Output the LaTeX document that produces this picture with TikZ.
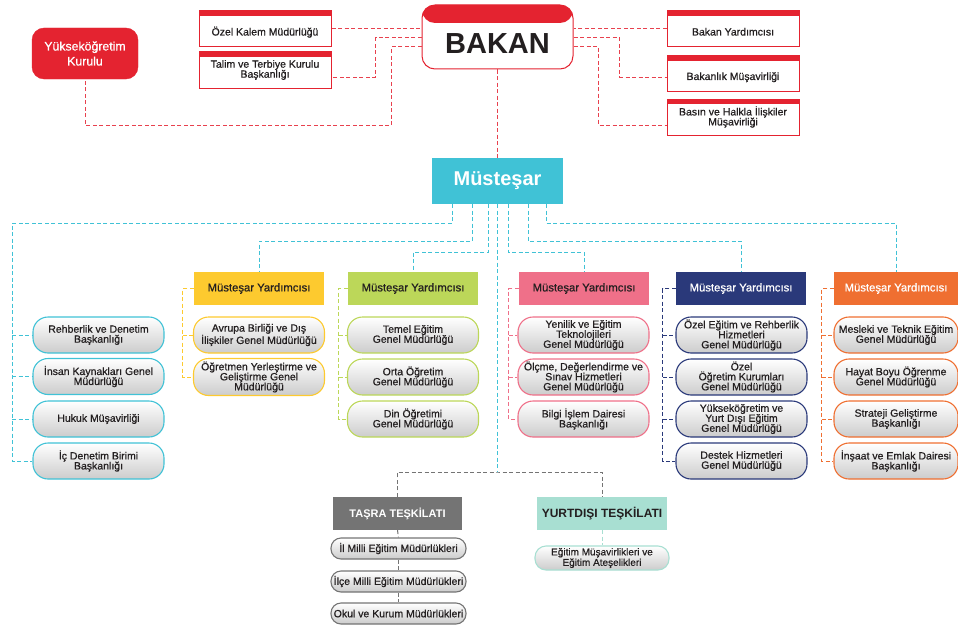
\documentclass[tikz,border=0pt]{standalone}
\usepackage{fontspec}
\setmainfont{Liberation Sans}
\newfontfamily\medium{Liberation Sans}[FakeBold=0.7]
\usetikzlibrary{calc,positioning}
\definecolor{bakanred}{HTML}{E42330}
\definecolor{redline}{HTML}{E8414E}
\definecolor{mcyan}{HTML}{40C2D6}
\definecolor{myellow}{HTML}{FDCA2F}
\definecolor{mgreen}{HTML}{BCD759}
\definecolor{mpink}{HTML}{EF7089}
\definecolor{mnavy}{HTML}{2A397A}
\definecolor{morange}{HTML}{EF6F31}
\definecolor{tgray}{HTML}{747474}
\definecolor{tteal}{HTML}{A8DFD2}
\definecolor{txtdark}{HTML}{231F20}

\begin{document}
\begin{tikzpicture}[x=1pt,y=-1pt,
  every node/.style={align=center,inner sep=1pt,text=txtdark,font=\medium\fontsize{10.5}{10}\selectfont},
  link/.style={draw=#1,line width=1pt,dash pattern=on 4pt off 2.5pt},
  redbox/.style={draw=bakanred,line width=1pt,fill=white,minimum width=132pt,minimum height=36pt,
    path picture={\fill[bakanred] (path picture bounding box.north west) rectangle ([yshift=-5pt]path picture bounding box.north east);}},
  oneline/.style={text height=13pt,text depth=0pt},
  bakanbox/.style={draw=bakanred,line width=1pt,rounded corners=13pt,fill=white,minimum width=151pt,minimum height=64pt,
    font=\bfseries\fontsize{29}{30}\selectfont,text height=32pt,text depth=0pt,
    path picture={\fill[bakanred] (path picture bounding box.north west) rectangle ([yshift=-18pt]path picture bounding box.north east);}},
  ydbox/.style={fill=#1,minimum width=130pt,minimum height=33pt,font=\medium\fontsize{11.3}{12}\selectfont},
  pill/.style={draw=#1,line width=1.1pt,rounded corners=15pt,top color=white,bottom color=black!20,minimum width=131pt,minimum height=36pt},
  smallpill/.style={draw=#1,line width=1.1pt,rounded corners=10pt,top color=white,bottom color=black!20,minimum width=135pt,minimum height=21pt}
]
\useasboundingbox (0,0) rectangle (958,626);

% bakan ve bagli birimler
\node[draw=bakanred,fill=bakanred,rounded corners=12pt,minimum width=106pt,minimum height=51pt,text=white,font=\medium\fontsize{12.3}{15}\selectfont] (yok) at (85,53.5) {Yükseköğretim\\Kurulu};
\node[redbox,oneline] (ozelkalem) at (265,29) {Özel Kalem Müdürlüğü};
\node[redbox] (talim) at (265,70) {Talim ve Terbiye Kurulu\\Başkanlığı};
\node[bakanbox] (bakan) at (497.5,37) {BAKAN};
\node[redbox,oneline] (bakanyrd) at (733,29) {Bakan Yardımcısı};
\node[redbox,oneline,minimum height=35pt] (musavir) at (733,73.5) {Bakanlık Müşavirliği};
\node[redbox] (basin) at (733,117) {Basın ve Halkla İlişkiler\\Müşavirliği};

\node[fill=mcyan,minimum width=131pt,minimum height=46pt,text=white,font=\bfseries\fontsize{20}{22}\selectfont] (must) at (497.5,181) {Müsteşar};

% mustesar yardimcilari
\node[ydbox=myellow] (yrdsari) at (259,288.5) {Müsteşar Yardımcısı};
\node[ydbox=mgreen] (yrdyesil) at (413,288.5) {Müsteşar Yardımcısı};
\node[ydbox=mpink] (yrdpembe) at (584,288.5) {Müsteşar Yardımcısı};
\node[ydbox=mnavy,text=white] (yrdlacivert) at (741,288.5) {Müsteşar Yardımcısı};
\node[ydbox=morange,text=white,minimum width=124pt] (yrdturuncu) at (896,288.5) {Müsteşar Yardımcısı};

% mustesara bagli birimler
\node[pill=mcyan] (rehber) at (98.5,335) {Rehberlik ve Denetim\\Başkanlığı};
\node[pill=mcyan] (insan) at (98.5,376.5) {İnsan Kaynakları Genel\\Müdürlüğü};
\node[pill=mcyan] (hukuk) at (98.5,419) {Hukuk Müşavirliği};
\node[pill=mcyan] (icdenetim) at (98.5,461) {İç Denetim Birimi\\Başkanlığı};

\node[pill=myellow] (avrupa) at (259,335) {Avrupa Birliği ve Dış\\İlişkiler Genel Müdürlüğü};
\node[pill=myellow,minimum height=37pt] (ogretmen) at (259,377) {Öğretmen Yerleştirme ve\\Geliştirme Genel\\Müdürlüğü};

\node[pill=mgreen] (temel) at (413,335) {Temel Eğitim\\Genel Müdürlüğü};
\node[pill=mgreen] (orta) at (413,377) {Orta Öğretim\\Genel Müdürlüğü};
\node[pill=mgreen] (din) at (413,419) {Din Öğretimi\\Genel Müdürlüğü};

\node[pill=mpink] (yenilik) at (583.5,335) {Yenilik ve Eğitim\\Teknolojileri\\Genel Müdürlüğü};
\node[pill=mpink] (olcme) at (583.5,377) {Ölçme, Değerlendirme ve\\Sınav Hizmetleri\\Genel Müdürlüğü};
\node[pill=mpink] (bilgi) at (583.5,419) {Bilgi İşlem Dairesi\\Başkanlığı};

\node[pill=mnavy] (ozelegitim) at (741.5,335) {Özel Eğitim ve Rehberlik\\Hizmetleri\\Genel Müdürlüğü};
\node[pill=mnavy] (ozelogretim) at (741.5,377) {Özel\\Öğretim Kurumları\\Genel Müdürlüğü};
\node[pill=mnavy] (yuksekogretim) at (741.5,419) {Yükseköğretim ve\\Yurt Dışı Eğitim\\Genel Müdürlüğü};
\node[pill=mnavy] (destek) at (741.5,461) {Destek Hizmetleri\\Genel Müdürlüğü};

\node[pill=morange,minimum width=124pt] (mesleki) at (896,335) {Mesleki ve Teknik Eğitim\\Genel Müdürlüğü};
\node[pill=morange,minimum width=124pt] (hayat) at (896,377) {Hayat Boyu Öğrenme\\Genel Müdürlüğü};
\node[pill=morange,minimum width=124pt] (strateji) at (896,419) {Strateji Geliştirme\\Başkanlığı};
\node[pill=morange,minimum width=124pt] (insaat) at (896,461) {İnşaat ve Emlak Dairesi\\Başkanlığı};

% tasra ve yurtdisi
\node[fill=tgray,text=white,font=\bfseries\fontsize{11}{12}\selectfont,minimum width=129pt,minimum height=33pt] (tasra) at (397.5,513.5) {TAŞRA TEŞKİLATI};
\node[fill=tteal,font=\bfseries\fontsize{12}{13}\selectfont,minimum width=130pt,minimum height=33pt] (yurtdisi) at (602,513.5) {YURTDIŞI TEŞKİLATI};
\node[smallpill=tgray] (il) at (398.5,548.5) {İl Milli Eğitim Müdürlükleri};
\node[smallpill=tgray] (ilce) at (398.5,581.5) {İlçe Milli Eğitim Müdürlükleri};
\node[smallpill=tgray] (okul) at (398.5,613.5) {Okul ve Kurum Müdürlükleri};
\node[smallpill=tteal,minimum width=134pt,minimum height=24pt,rounded corners=11pt,font=\medium\fontsize{10}{9}\selectfont] (ates) at (602,558) {Eğitim Müşavirlikleri ve\\Eğitim Ateşelikleri};

% bakan baglantilari
\draw[link=redline] (ozelkalem.east) -- (ozelkalem.east -| bakan.west);
\draw[link=redline] ([yshift=-1pt]bakan.west) -- ++(-46,0) |- ([yshift=-7pt]talim.east);
\draw[link=redline] ([yshift=-10pt]bakan.west) -- ++(-30,0) -- ++(0,78) -| (yok.south);
\draw[link=redline] (bakanyrd.west) -- (bakanyrd.west -| bakan.east);
\draw[link=redline] ([yshift=-1pt]bakan.east) -- ++(46,0) |- ([yshift=-3.5pt]musavir.west);
\draw[link=redline] ([yshift=-10pt]bakan.east) -- ++(25,0) |- ([yshift=-8pt]basin.west);
\draw[link=redline] (bakan.south) -- (must.north);

% mustesar baglantilari
\coordinate (solhat) at (12,461);
\coordinate (tbus) at (497.5,472);
\draw[link=mcyan] ([xshift=-45.5pt]must.south) -- ++(0,19) -| (solhat) -- (icdenetim.west);
\foreach \n in {rehber,insan,hukuk} \draw[link=mcyan] (\n.west -| solhat) -- (\n.west);
\draw[link=mcyan] ([xshift=-25.5pt]must.south) -- ++(0,37) -| (yrdsari.north);
\draw[link=mcyan] ([xshift=-9.5pt]must.south) -- ++(0,48) -| (yrdyesil.north);
\draw[link=mcyan] (must.south) -- (tbus);
\draw[link=mcyan] ([xshift=10.5pt]must.south) -- ++(0,48) -| (yrdpembe.north);
\draw[link=mcyan] ([xshift=30.5pt]must.south) -- ++(0,37) -| (yrdlacivert.north);
\draw[link=mcyan] ([xshift=48.5pt]must.south) -- ++(0,19) -| (yrdturuncu.north);

% yardimci kollari
\draw[link=myellow] (yrdsari.west) -- ++(-11,0) coordinate (sarihat) |- (ogretmen.west);
\draw[link=myellow] (avrupa.west -| sarihat) -- (avrupa.west);
\draw[link=mgreen] (yrdyesil.west) -- ++(-9,0) coordinate (yesilhat) |- (din.west);
\foreach \n in {temel,orta} \draw[link=mgreen] (\n.west -| yesilhat) -- (\n.west);
\draw[link=mpink] (yrdpembe.west) -- ++(-10,0) coordinate (pembehat) |- (bilgi.west);
\foreach \n in {yenilik,olcme} \draw[link=mpink] (\n.west -| pembehat) -- (\n.west);
\draw[link=mnavy] (yrdlacivert.west) -- ++(-13,0) coordinate (lacivert) |- (destek.west);
\foreach \n in {ozelegitim,ozelogretim,yuksekogretim} \draw[link=mnavy] (\n.west -| lacivert) -- (\n.west);
\draw[link=morange] (yrdturuncu.west) -- ++(-12,0) coordinate (turuncuhat) |- (insaat.west);
\foreach \n in {mesleki,hayat,strateji} \draw[link=morange] (\n.west -| turuncuhat) -- (\n.west);

% teskilat
\draw[link=tgray] (tasra.north) |- (tbus) -| (yurtdisi.north);
\draw[link=tgray] (tasra.south) -- (il.north);
\draw[link=tgray] (il.south) -- (ilce.north);
\draw[link=tgray] (ilce.south) -- (okul.north);
\draw[link=tteal] (yurtdisi.south) -- (ates.north);
\end{tikzpicture}
\end{document}
